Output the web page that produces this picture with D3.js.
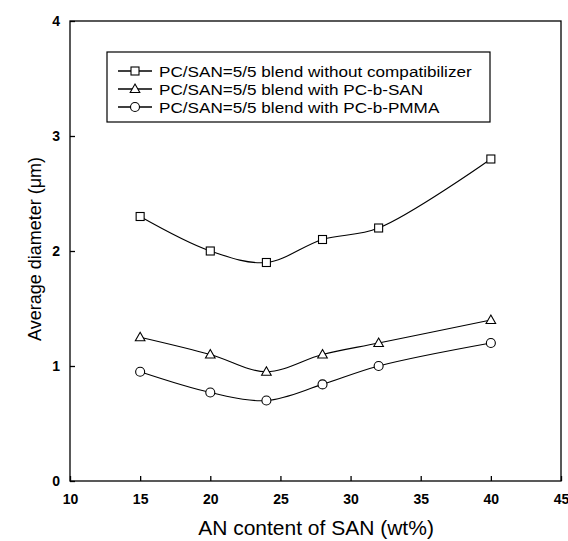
<!DOCTYPE html>
<html><head><meta charset="utf-8">
<script src="https://cdn.jsdelivr.net/npm/d3@7"></script>
<style>body{margin:0;background:#fff}svg{display:block}</style>
</head><body><svg id="c" width="568" height="541"></svg>
<script>
const xValues = [15, 20, 24, 28, 32, 40];
const seriesNames = [
  "PC/SAN=5/5 blend without compatibilizer",
  "PC/SAN=5/5 blend with PC-b-SAN",
  "PC/SAN=5/5 blend with PC-b-PMMA"
];
const noCompat = [2.3, 2.0, 1.9, 2.1, 2.2, 2.8];
const withSAN = [1.25, 1.1, 0.95, 1.1, 1.2, 1.4];
const withPMMA = [0.95, 0.77, 0.7, 0.84, 1.0, 1.2];
const xTicks = [10, 15, 20, 25, 30, 35, 40, 45];
const yTicks = [0, 1, 2, 3, 4];
const markerTypes = ["square", "triangle", "circle"];

const svg = d3.select("#c");
const L = 70, R = 561, T = 21, B = 481;
const x = d3.scaleLinear().domain([10, 45]).range([L, R]);
const y = d3.scaleLinear().domain([0, 4]).range([B, T]);
const FONT = "Arial, 'Liberation Sans', sans-serif";

svg.append("rect").attr("x", L).attr("y", T).attr("width", R - L).attr("height", B - T)
  .attr("fill", "none").attr("stroke", "#000").attr("stroke-width", 1.3);

const xAxis = svg.append("g").attr("transform", `translate(0,${B})`)
  .call(d3.axisBottom(x).tickValues(xTicks).tickSizeInner(-5).tickSizeOuter(0).tickPadding(13));
const yAxis = svg.append("g").attr("transform", `translate(${L},0)`)
  .call(d3.axisLeft(y).tickValues(yTicks).tickSizeInner(-5).tickSizeOuter(0).tickPadding(10).tickFormat(d3.format("d")));
[xAxis, yAxis].forEach(a => {
  a.select(".domain").remove();
  a.selectAll("line").attr("stroke", "#000").attr("stroke-width", 1.3);
  a.selectAll("text").attr("font-family", FONT)
    .attr("font-size", 14).attr("font-weight", "bold").attr("fill", "#000");
});

svg.append("text").attr("x", 316).attr("y", 535).attr("text-anchor", "middle")
  .attr("font-family", FONT).attr("font-size", 21)
  .text("AN content of SAN (wt%)");
svg.append("text").attr("transform", `translate(41,249) rotate(-90)`).attr("text-anchor", "middle")
  .attr("font-family", FONT).attr("font-size", 18)
  .text("Average diameter (\u03bcm)");

const allSeries = [noCompat, withSAN, withPMMA];
const line = d3.line().x((d, i) => x(xValues[i])).y(d => y(d)).curve(d3.curveCatmullRom.alpha(0.5));

function drawMarker(g, type, cx, cy) {
  if (type === "square") {
    g.append("rect").attr("x", cx - 4).attr("y", cy - 4).attr("width", 8).attr("height", 8)
      .attr("fill", "#fff").attr("stroke", "#000").attr("stroke-width", 1.1);
  } else if (type === "triangle") {
    g.append("path").attr("d", `M${cx},${cy - 5}L${cx + 4.8},${cy + 3.5}L${cx - 4.8},${cy + 3.5}Z`)
      .attr("fill", "#fff").attr("stroke", "#000").attr("stroke-width", 1.1);
  } else {
    g.append("circle").attr("cx", cx).attr("cy", cy).attr("r", 4.5)
      .attr("fill", "#fff").attr("stroke", "#000").attr("stroke-width", 1.1);
  }
}

allSeries.forEach((s, k) => {
  svg.append("path").datum(s).attr("d", line).attr("fill", "none")
    .attr("stroke", "#000").attr("stroke-width", 1.1);
  const g = svg.append("g");
  s.forEach((v, i) => drawMarker(g, markerTypes[k], x(xValues[i]), y(v)));
});

const lg = svg.append("g");
lg.append("rect").attr("x", 107).attr("y", 52).attr("width", 383).attr("height", 70)
  .attr("fill", "#fff").attr("stroke", "#000").attr("stroke-width", 1.2);
const rowsY = [71, 89, 107];
seriesNames.forEach((name, k) => {
  lg.append("line").attr("x1", 118).attr("x2", 152).attr("y1", rowsY[k]).attr("y2", rowsY[k])
    .attr("stroke", "#000").attr("stroke-width", 1.5);
  drawMarker(lg, markerTypes[k], 135, rowsY[k]);
  lg.append("text").attr("transform", `translate(159,${rowsY[k] + 5.5}) scale(1.12,1)`)
    .attr("font-family", FONT).attr("font-size", 15.3)
    .text(name);
});
</script></body></html>
